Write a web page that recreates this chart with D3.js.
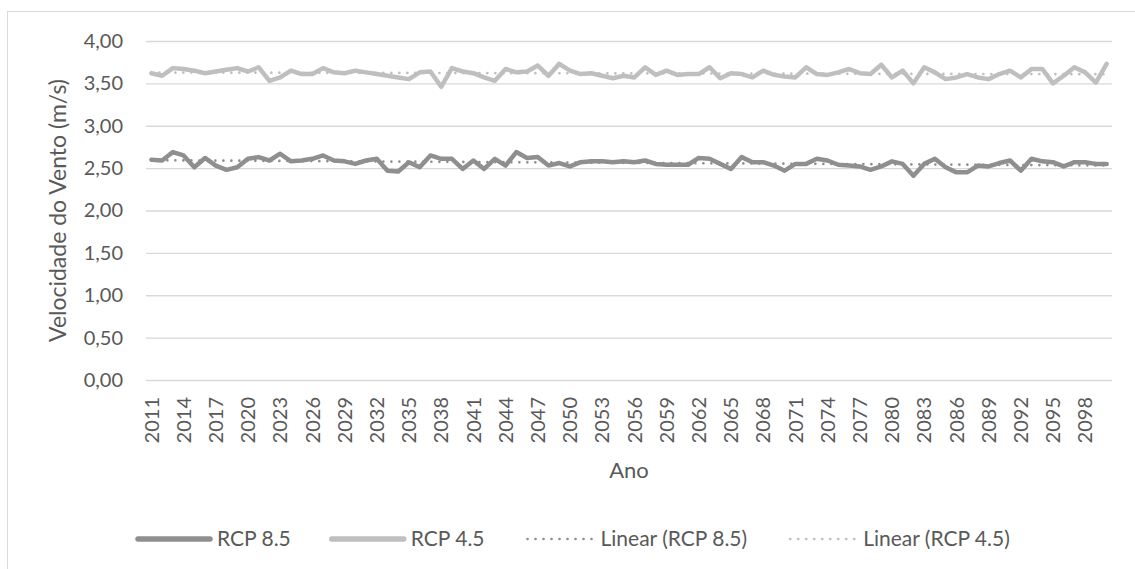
<!DOCTYPE html>
<html>
<head>
<meta charset="utf-8">
<script src="https://cdn.jsdelivr.net/npm/d3@7"></script>
<style>
  html, body { margin: 0; padding: 0; background: #ffffff; }
  svg { display: block; font-family: Lato, "Noto Sans", sans-serif; }
</style>
</head>
<body>
<svg id="chart" width="1135" height="569"></svg>
<script>
const years = d3.range(2011, 2101);

const rcp85 = [
  2.60, 2.59, 2.69, 2.65, 2.51, 2.62, 2.53, 2.48, 2.51, 2.61,
  2.63, 2.59, 2.67, 2.58, 2.59, 2.61, 2.65, 2.59, 2.58, 2.55,
  2.59, 2.61, 2.47, 2.46, 2.57, 2.51, 2.65, 2.61, 2.61, 2.49,
  2.59, 2.49, 2.61, 2.53, 2.69, 2.62, 2.63, 2.53, 2.56, 2.52,
  2.57, 2.58, 2.58, 2.57, 2.58, 2.57, 2.59, 2.55, 2.54, 2.54,
  2.54, 2.62, 2.61, 2.55, 2.49, 2.63, 2.57, 2.57, 2.53, 2.47,
  2.55, 2.55, 2.61, 2.59, 2.54, 2.53, 2.52, 2.48, 2.52, 2.58,
  2.55, 2.41, 2.55, 2.61, 2.51, 2.45, 2.45, 2.53, 2.52, 2.56,
  2.59, 2.47, 2.61, 2.58, 2.57, 2.52, 2.57, 2.57, 2.55, 2.55
];

const rcp45 = [
  3.62, 3.59, 3.68, 3.67, 3.65, 3.62, 3.64, 3.66, 3.68, 3.64,
  3.69, 3.53, 3.57, 3.65, 3.61, 3.61, 3.68, 3.63, 3.62, 3.65,
  3.63, 3.61, 3.59, 3.57, 3.55, 3.63, 3.64, 3.46, 3.68, 3.64,
  3.62, 3.57, 3.53, 3.67, 3.63, 3.64, 3.71, 3.59, 3.73, 3.65,
  3.61, 3.62, 3.59, 3.56, 3.59, 3.57, 3.69, 3.60, 3.65, 3.60,
  3.61, 3.61, 3.69, 3.56, 3.62, 3.61, 3.57, 3.65, 3.60, 3.58,
  3.57, 3.69, 3.61, 3.60, 3.63, 3.67, 3.62, 3.61, 3.72, 3.57,
  3.65, 3.50, 3.69, 3.63, 3.55, 3.57, 3.61, 3.57, 3.55, 3.61,
  3.65, 3.57, 3.67, 3.67, 3.50, 3.59, 3.69, 3.63, 3.51, 3.73
];

const yTicks = [0, 0.5, 1, 1.5, 2, 2.5, 3, 3.5, 4];
const xTickYears = [2011, 2014, 2017, 2020, 2023, 2026, 2029, 2032, 2035, 2038,
  2041, 2044, 2047, 2050, 2053, 2056, 2059, 2062, 2065, 2068, 2071, 2074, 2077,
  2080, 2083, 2086, 2089, 2092, 2095, 2098];

const seriesNames = ["RCP 8.5", "RCP 4.5", "Linear (RCP 8.5)", "Linear (RCP 4.5)"];
const yTitle = "Velocidade do Vento (m/s)";
const xTitle = "Ano";

// ---- layout ----
const plot = { left: 146, right: 1112, top: 41, bottom: 380 };
const textColor = "#595959";
const gridColor = "#d9d9d9";
const col85 = "#8f8f8f";
const col45 = "#bfbfbf";

const svg = d3.select("#chart");

// chart border (chart area continues beyond the right/bottom edge)
svg.append("rect")
  .attr("x", 7.5).attr("y", 11.5)
  .attr("width", 1200).attr("height", 600)
  .attr("fill", "none").attr("stroke", gridColor).attr("stroke-width", 1);

const x = d3.scaleBand().domain(years).range([plot.left, plot.right]);
const xc = d => x(d) + x.bandwidth() / 2;
const y = d3.scaleLinear().domain([0, 4]).range([plot.bottom, plot.top]);

// y axis + gridlines
const yAxis = d3.axisLeft(y)
  .tickValues(yTicks)
  .tickSizeInner(-(plot.right - plot.left))
  .tickSizeOuter(0)
  .tickPadding(23)
  .tickFormat(d => d3.format(".2f")(d).replace(".", ","));

const gy = svg.append("g").attr("transform", `translate(${plot.left},0)`).call(yAxis);
gy.select(".domain").remove();
gy.selectAll(".tick line").attr("stroke", gridColor).attr("stroke-width", 1.3);
gy.selectAll(".tick text").attr("fill", textColor).style("font-size", "20px")
  .style("font-family", "Lato, sans-serif");

// x axis
const xAxis = d3.axisBottom(x)
  .tickValues(xTickYears)
  .tickSize(0)
  .tickPadding(0);
const gx = svg.append("g").attr("transform", `translate(0,${plot.bottom})`).call(xAxis);
gx.select(".domain").remove();
gx.selectAll(".tick text")
  .attr("fill", textColor)
  .style("font-size", "20px")
  .style("font-family", "Lato, sans-serif")
  .attr("transform", "rotate(-90)")
  .attr("text-anchor", "end")
  .attr("x", -17)
  .attr("y", 0)
  .attr("dy", "0.36em");

// trend lines (least squares)
function linearFit(vals) {
  const n = vals.length;
  const xs = d3.range(1, n + 1);
  const mx = d3.mean(xs), my = d3.mean(vals);
  let sxy = 0, sxx = 0;
  for (let i = 0; i < n; i++) { sxy += (xs[i] - mx) * (vals[i] - my); sxx += (xs[i] - mx) ** 2; }
  const b = sxy / sxx, a = my - b * mx;
  return xs.map(t => a + b * t);
}

const line = d3.line().x((d, i) => xc(years[i])).y(d => y(d));

const series = [
  { name: seriesNames[0], values: rcp85, color: col85 },
  { name: seriesNames[1], values: rcp45, color: col45 }
];

const dotStyle = { width: 2.7, dash: "0 8" };

series.forEach(s => {
  svg.append("path")
    .datum(s.values)
    .attr("d", line)
    .attr("fill", "none")
    .attr("stroke", s.color)
    .attr("stroke-width", 4.5)
    .attr("stroke-linejoin", "round")
    .attr("stroke-linecap", "round");
});

series.forEach(s => {
  svg.append("path")
    .datum(linearFit(s.values))
    .attr("d", line)
    .attr("fill", "none")
    .attr("stroke", s.color)
    .attr("stroke-width", dotStyle.width)
    .attr("stroke-dasharray", dotStyle.dash)
    .attr("stroke-linecap", "round");
});

// axis titles
svg.append("text")
  .attr("transform", `translate(58,${(plot.top + plot.bottom) / 2}) rotate(-90)`)
  .attr("text-anchor", "middle")
  .attr("dy", "0.35em")
  .attr("fill", textColor)
  .style("font-size", "23px")
  .text(yTitle);

svg.append("text")
  .attr("x", (plot.left + plot.right) / 2)
  .attr("y", 470)
  .attr("text-anchor", "middle")
  .attr("dy", "0.35em")
  .attr("fill", textColor)
  .style("font-size", "22px")
  .text(xTitle);

// legend
const legendItems = [
  { name: seriesNames[0], color: col85, dotted: false, len: 72 },
  { name: seriesNames[1], color: col45, dotted: false, len: 72 },
  { name: seriesNames[2], color: col85, dotted: true, len: 68 },
  { name: seriesNames[3], color: col45, dotted: true, len: 68 }
];
const legendY = 539;
const lg = svg.append("g");
let cx = 0;
legendItems.forEach((it, i) => {
  const g = lg.append("g").attr("transform", `translate(${cx},0)`);
  const ln = g.append("line")
    .attr("x1", 0).attr("x2", it.len)
    .attr("y1", legendY).attr("y2", legendY)
    .attr("stroke", it.color)
    .attr("stroke-linecap", "round");
  if (it.dotted) {
    ln.attr("x1", 2).attr("stroke-width", dotStyle.width).attr("stroke-dasharray", dotStyle.dash);
  } else {
    ln.attr("stroke-width", 5.5);
  }
  const t = g.append("text")
    .attr("x", it.len + 7)
    .attr("y", legendY)
    .attr("dy", "0.35em")
    .attr("fill", textColor)
    .style("font-size", "21px")
    .text(it.name);
  cx += it.len + 7 + t.node().getComputedTextLength() + 41;
});
lg.attr("transform", `translate(138,0)`);
</script>
</body>
</html>
